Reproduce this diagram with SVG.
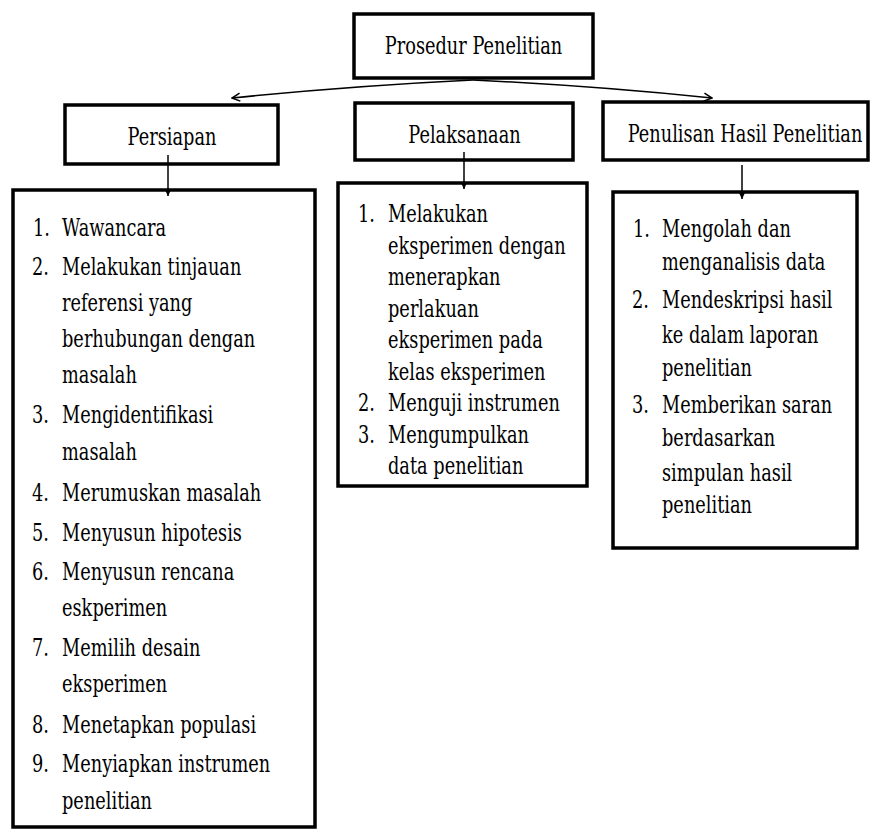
<svg xmlns="http://www.w3.org/2000/svg" width="875" height="832" viewBox="0 0 875 832">
<style>
  .box { fill: #fff; stroke: #000; stroke-width: 3.5; }
  .t { font-family: 'DejaVu Serif', serif; font-size: 24px; fill: #000; }
  .c { text-anchor: middle; }
  .conn { fill: none; stroke: #000; stroke-width: 1.5; }
</style>
<defs>
  <marker id="open" viewBox="0 0 10 10" refX="9" refY="5" markerWidth="10" markerHeight="10" markerUnits="userSpaceOnUse" orient="auto">
    <path d="M1,1 L9,5 L1,9" fill="none" stroke="#000" stroke-width="1.5"/>
  </marker>
  <marker id="down" viewBox="0 0 10 10" refX="9" refY="5" markerWidth="8" markerHeight="8" markerUnits="userSpaceOnUse" orient="auto">
    <path d="M1,1 L9,5 L1,9 Z" fill="#000"/>
  </marker>
</defs>
<rect width="875" height="832" fill="#fff"/>

<g id="prosedur">
  <rect class="box" x="354" y="14" width="239" height="64"/>
  <text class="t c" transform="translate(473.5,54) scale(0.74,1)">Prosedur Penelitian</text>
</g>

<g id="persiapan">
  <rect class="box" x="65" y="105" width="213" height="59"/>
  <text class="t c" transform="translate(172,145) scale(0.74,1)">Persiapan</text>
</g>

<g id="pelaksanaan">
  <rect class="box" x="355" y="103" width="218" height="57"/>
  <text class="t c" transform="translate(464.5,143) scale(0.74,1)">Pelaksanaan</text>
</g>

<g id="penulisan">
  <rect class="box" x="603" y="102" width="265" height="58"/>
  <text class="t c" transform="translate(745,142) scale(0.74,1)">Penulisan Hasil Penelitian</text>
</g>

<g id="list-persiapan">
  <rect class="box" x="13" y="190" width="302" height="637"/>
  <text class="t" transform="translate(33,236) scale(0.74,1)">1.</text>
  <text class="t" transform="translate(62,236) scale(0.74,1)">Wawancara</text>
  <text class="t" transform="translate(32,275) scale(0.74,1)">2.</text>
  <text class="t" transform="translate(62,275) scale(0.74,1)">Melakukan tinjauan</text>
  <text class="t" transform="translate(62,311) scale(0.74,1)">referensi  yang</text>
  <text class="t" transform="translate(62,347) scale(0.74,1)">berhubungan dengan</text>
  <text class="t" transform="translate(62,383) scale(0.74,1)">masalah</text>
  <text class="t" transform="translate(32,423) scale(0.74,1)">3.</text>
  <text class="t" transform="translate(62,423) scale(0.74,1)">Mengidentifikasi</text>
  <text class="t" transform="translate(62,460) scale(0.74,1)">masalah</text>
  <text class="t" transform="translate(32,501) scale(0.74,1)">4.</text>
  <text class="t" transform="translate(62,501) scale(0.74,1)">Merumuskan masalah</text>
  <text class="t" transform="translate(32,541) scale(0.74,1)">5.</text>
  <text class="t" transform="translate(62,541) scale(0.74,1)">Menyusun hipotesis</text>
  <text class="t" transform="translate(32,580) scale(0.74,1)">6.</text>
  <text class="t" transform="translate(62,580) scale(0.74,1)">Menyusun rencana</text>
  <text class="t" transform="translate(62,616) scale(0.74,1)">eskperimen</text>
  <text class="t" transform="translate(32,656) scale(0.74,1)">7.</text>
  <text class="t" transform="translate(62,656) scale(0.74,1)">Memilih  desain</text>
  <text class="t" transform="translate(62,692) scale(0.74,1)">eksperimen</text>
  <text class="t" transform="translate(32,733) scale(0.74,1)">8.</text>
  <text class="t" transform="translate(62,733) scale(0.74,1)">Menetapkan populasi</text>
  <text class="t" transform="translate(32,772) scale(0.74,1)">9.</text>
  <text class="t" transform="translate(62,772) scale(0.74,1)">Menyiapkan instrumen</text>
  <text class="t" transform="translate(62,809) scale(0.74,1)">penelitian</text>
</g>

<g id="list-pelaksanaan">
  <rect class="box" x="338" y="183" width="249" height="303"/>
  <text class="t" transform="translate(358,222) scale(0.74,1)">1.</text>
  <text class="t" transform="translate(388,222) scale(0.74,1)">Melakukan</text>
  <text class="t" transform="translate(388,253.5) scale(0.74,1)">eksperimen dengan</text>
  <text class="t" transform="translate(388,285) scale(0.74,1)">menerapkan</text>
  <text class="t" transform="translate(388,316.5) scale(0.74,1)">perlakuan</text>
  <text class="t" transform="translate(388,348) scale(0.74,1)">eksperimen pada</text>
  <text class="t" transform="translate(388,379.5) scale(0.74,1)">kelas eksperimen</text>
  <text class="t" transform="translate(358,411) scale(0.74,1)">2.</text>
  <text class="t" transform="translate(388,411) scale(0.74,1)">Menguji instrumen</text>
  <text class="t" transform="translate(358,442.5) scale(0.74,1)">3.</text>
  <text class="t" transform="translate(388,442.5) scale(0.74,1)">Mengumpulkan</text>
  <text class="t" transform="translate(388,474) scale(0.74,1)">data penelitian</text>
</g>

<g id="list-penulisan">
  <rect class="box" x="613" y="192" width="244" height="356"/>
  <text class="t" transform="translate(633,237) scale(0.74,1)">1.</text>
  <text class="t" transform="translate(662,237) scale(0.74,1)">Mengolah dan</text>
  <text class="t" transform="translate(662,270) scale(0.74,1)">menganalisis  data</text>
  <text class="t" transform="translate(632,308) scale(0.74,1)">2.</text>
  <text class="t" transform="translate(662,308) scale(0.74,1)">Mendeskripsi hasil</text>
  <text class="t" transform="translate(662,343) scale(0.74,1)">ke dalam laporan</text>
  <text class="t" transform="translate(662,376) scale(0.74,1)">penelitian</text>
  <text class="t" transform="translate(632,413) scale(0.74,1)">3.</text>
  <text class="t" transform="translate(662,413) scale(0.74,1)">Memberikan saran</text>
  <text class="t" transform="translate(662,446) scale(0.74,1)">berdasarkan</text>
  <text class="t" transform="translate(662,481) scale(0.74,1)">simpulan hasil</text>
  <text class="t" transform="translate(662,513) scale(0.74,1)">penelitian</text>
</g>

<g id="connectors">
  <path class="conn" d="M473,80 Q350,86 232,98" marker-end="url(#open)"/>
  <path class="conn" d="M473,80 Q596,86 712,98" marker-end="url(#open)"/>
  <path class="conn" d="M168,155 L168,196" marker-end="url(#down)"/>
  <path class="conn" d="M464,152 L464,189" marker-end="url(#down)"/>
  <path class="conn" d="M742,165 L742,199" marker-end="url(#down)"/>
</g>
</svg>
